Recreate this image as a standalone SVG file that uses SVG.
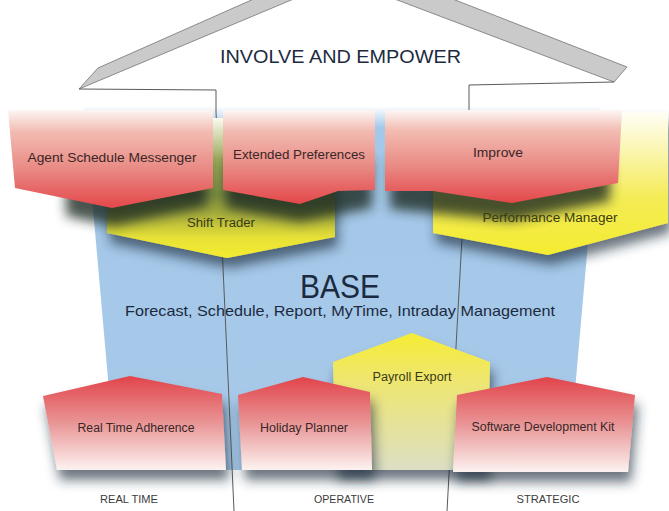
<svg xmlns="http://www.w3.org/2000/svg" width="669" height="511" viewBox="0 0 669 511">
<defs>
<style>
.lbl{font-family:"Liberation Sans","DejaVu Sans",sans-serif;font-size:12px;fill:#3a2626;text-anchor:middle}
.ylbl{font-family:"Liberation Sans","DejaVu Sans",sans-serif;font-size:12px;fill:#3a3a14;text-anchor:middle}
.cap{font-family:"Liberation Sans","DejaVu Sans",sans-serif;font-size:11px;fill:#3c3c3c;text-anchor:middle}
.base{font-family:"Liberation Sans","DejaVu Sans",sans-serif;fill:#1c2a40;text-anchor:middle}
.roof{fill:#cacaca;stroke:#8a8a8a;stroke-width:1}
.ln{fill:none;stroke:#5a5a5a;stroke-width:1}
</style>
<linearGradient id="gBlue" x1="0" y1="0" x2="0" y2="1">
<stop offset="0" stop-color="#ffffff"/>
<stop offset="0.06" stop-color="#a4c8ea"/>
<stop offset="1" stop-color="#a8c9e8"/>
</linearGradient>
<linearGradient id="gRedTop" x1="0" y1="0" x2="0" y2="1">
<stop offset="0" stop-color="#fdf6f4"/>
<stop offset="0.22" stop-color="#f2bcb2"/>
<stop offset="0.6" stop-color="#e98a84"/>
<stop offset="1" stop-color="#e4474a"/>
</linearGradient>
<linearGradient id="gRedBot" x1="0" y1="0" x2="0" y2="1">
<stop offset="0" stop-color="#e1444a"/>
<stop offset="0.5" stop-color="#e99596"/>
<stop offset="1" stop-color="#fcf2f0"/>
</linearGradient>
<linearGradient id="gYel" x1="0" y1="0" x2="0" y2="1">
<stop offset="0" stop-color="#fbfbf0"/>
<stop offset="0.3" stop-color="#9aa858"/>
<stop offset="0.55" stop-color="#7a8a40"/>
<stop offset="0.72" stop-color="#b4b83c"/>
<stop offset="0.86" stop-color="#e8e236"/>
<stop offset="1" stop-color="#f4ec30"/>
</linearGradient>
<linearGradient id="gPerf" x1="0" y1="0" x2="0" y2="1">
<stop offset="0" stop-color="#fffef6"/>
<stop offset="0.3" stop-color="#faf4a8"/>
<stop offset="0.6" stop-color="#f4ec56"/>
<stop offset="1" stop-color="#f4ec30"/>
</linearGradient>
<linearGradient id="gPay" x1="0" y1="0" x2="0" y2="1">
<stop offset="0" stop-color="#f6ec34"/>
<stop offset="0.35" stop-color="#eee670"/>
<stop offset="1" stop-color="#dcdfc4"/>
</linearGradient>
<filter id="sh" x="-20%" y="-20%" width="150%" height="170%">
<feGaussianBlur in="SourceAlpha" stdDeviation="6"/>
<feOffset dx="3" dy="10" result="o"/>
<feFlood flood-color="#1c2c3c" flood-opacity="0.65"/>
<feComposite in2="o" operator="in"/>
<feMerge><feMergeNode/><feMergeNode in="SourceGraphic"/></feMerge>
</filter>
<filter id="blur" x="-20%" y="-50%" width="140%" height="200%">
<feGaussianBlur stdDeviation="6"/>
</filter>
</defs>
<rect width="669" height="511" fill="#ffffff"/>

<g id="roof">
<polygon class="roof" points="79,89 98,68 256,-2 296,-2"/>
<polygon class="roof" points="392,-2 450,-2 627,67 614,82"/>
<text class="base" x="340.5" y="63" font-size="18" textLength="241" lengthAdjust="spacingAndGlyphs" fill="#333">INVOLVE AND EMPOWER</text>
</g>

<g id="base">
<polygon points="84,106 600,106 568,470 116,470" fill="url(#gBlue)"/>
</g>

<g id="connectors">
<polyline class="ln" points="79,89 216,90 216,112 234,511"/>
<polyline class="ln" points="614,82 469,85 469,110 447,511"/>
</g>

<g id="shift-trader">
<path d="M107,118 L335,118 L335,237 L227,258 L107,233 Z" fill="url(#gYel)" filter="url(#sh)"/>
</g>

<g id="performance-manager">
<path d="M433,112 L668,112 L668,223 L548,255 L433,233 Z" fill="url(#gPerf)" filter="url(#sh)"/>
</g>

<g id="top-shadows" filter="url(#blur)" fill="#1e2c24" opacity="0.8">
<path d="M66,160 L207,160 L207,206 L114,226 L66,216 Z"/>
<path d="M226,160 L372,160 L372,208 L300,222 L226,208 Z"/>
<path d="M390,160 L610,160 L610,201 L512,221 L390,209 Z"/>
</g>

<g id="shift-trader-label">
<text class="ylbl" x="221" y="227" textLength="68" lengthAdjust="spacingAndGlyphs">Shift Trader</text>
</g>
<g id="performance-manager-label">
<text class="ylbl" x="550" y="222" textLength="135" lengthAdjust="spacingAndGlyphs">Performance Manager</text>
</g>

<g id="agent-schedule-messenger">
<path d="M8,110 L213,110 L213,188 L112,208 L15,188 Z" fill="url(#gRedTop)"/>
<text class="lbl" x="112" y="162" textLength="169" lengthAdjust="spacingAndGlyphs">Agent Schedule Messenger</text>
</g>

<g id="extended-preferences">
<path d="M223,110 L375,110 L375,190 L338,191 L300,204 L223,190 Z" fill="url(#gRedTop)"/>
<text class="lbl" x="299" y="159" textLength="132" lengthAdjust="spacingAndGlyphs">Extended Preferences</text>
</g>

<g id="improve">
<path d="M385,110 L622,110 L618,183 L512,203 L433,191 L385,191 Z" fill="url(#gRedTop)"/>
<text class="lbl" x="498" y="157" textLength="50" lengthAdjust="spacingAndGlyphs">Improve</text>
</g>

<g id="base-label">
<text class="base" x="340" y="298" font-size="34" textLength="80" lengthAdjust="spacingAndGlyphs">BASE</text>
<text class="base" x="340" y="316" font-size="15" textLength="430" lengthAdjust="spacingAndGlyphs">Forecast, Schedule, Report, MyTime, Intraday Management</text>
</g>

<g id="payroll-export">
<path d="M333,362 L412,333 L490,362 L488,470 L335,470 Z" fill="url(#gPay)" filter="url(#sh)"/>
<text class="ylbl" x="412" y="381" textLength="79" lengthAdjust="spacingAndGlyphs">Payroll Export</text>
</g>

<g id="real-time-adherence">
<path d="M43,396 L130,376 L222,394 L226,470 L57,470 Z" fill="url(#gRedBot)" filter="url(#sh)"/>
<text class="lbl" x="136" y="432" textLength="117" lengthAdjust="spacingAndGlyphs">Real Time Adherence</text>
</g>

<g id="holiday-planner">
<path d="M238,395 L303,377 L370,392 L372,470 L242,470 Z" fill="url(#gRedBot)" filter="url(#sh)"/>
<text class="lbl" x="304" y="432" textLength="88" lengthAdjust="spacingAndGlyphs">Holiday Planner</text>
</g>

<g id="software-development-kit">
<path d="M457,395 L547,377 L635,395 L628,472 L453,472 Z" fill="url(#gRedBot)" filter="url(#sh)"/>
<text class="lbl" x="543" y="431" textLength="143" lengthAdjust="spacingAndGlyphs">Software Development Kit</text>
</g>

<g id="captions">
<text class="cap" x="129" y="503" textLength="58" lengthAdjust="spacingAndGlyphs">REAL TIME</text>
<text class="cap" x="344" y="503" textLength="60" lengthAdjust="spacingAndGlyphs">OPERATIVE</text>
<text class="cap" x="548" y="503" textLength="63" lengthAdjust="spacingAndGlyphs">STRATEGIC</text>
</g>
</svg>
